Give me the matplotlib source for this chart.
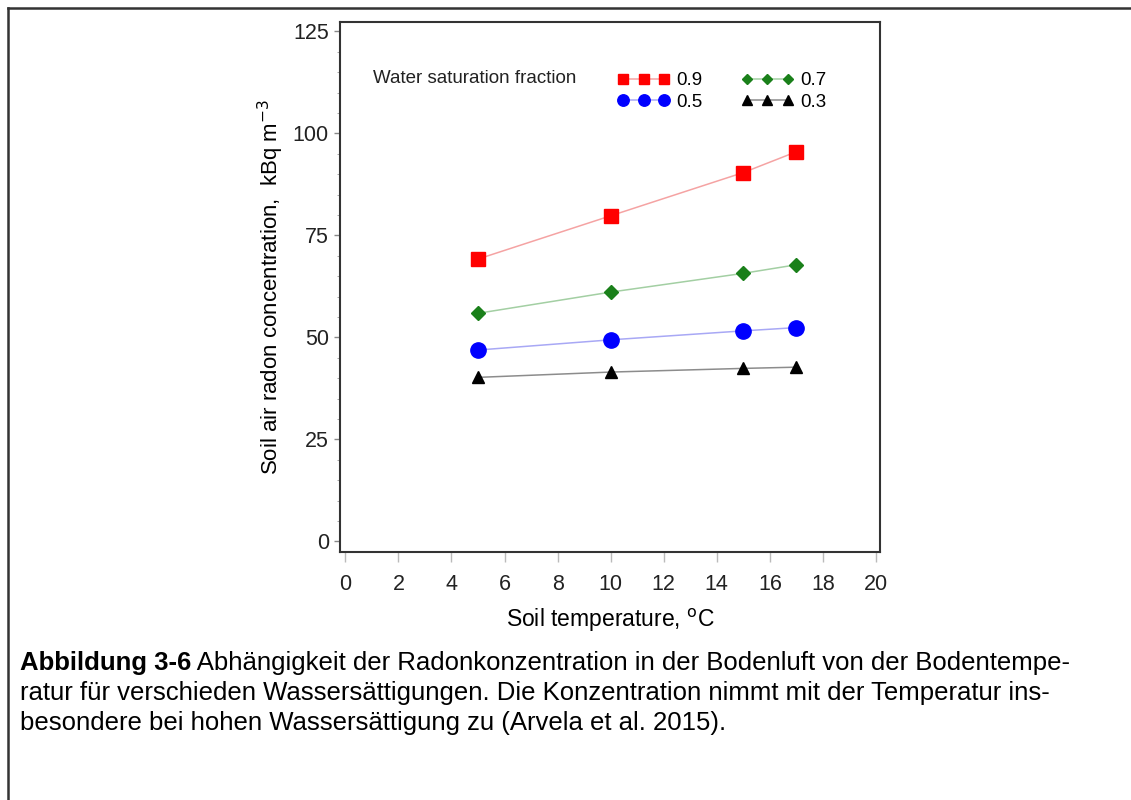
import matplotlib
matplotlib.use("Agg")
import matplotlib.pyplot as plt
from matplotlib.lines import Line2D

plt.rcParams['font.family'] = ['Liberation Sans', 'DejaVu Sans']

# data
temperature = [5, 10, 15, 17]
sat_09 = [69.2, 79.8, 90.4, 95.5]
sat_07 = [55.9, 61.1, 65.7, 67.8]
sat_05 = [46.9, 49.4, 51.6, 52.4]
sat_03 = [40.2, 41.5, 42.4, 42.7]

x_ticks = list(range(0, 21, 2))
y_ticks = [0, 25, 50, 75, 100, 125]

caption_bold = "Abbildung 3-6"
caption_lines = [
    " Abhängigkeit der Radonkonzentration in der Bodenluft von der Bodentempe-",
    "ratur für verschieden Wassersättigungen. Die Konzentration nimmt mit der Temperatur ins-",
    "besondere bei hohen Wassersättigung zu (Arvela et al. 2015).",
]

fig = plt.figure(figsize=(11.31, 8), dpi=100)
ax = fig.add_axes([340 / 1131, 1 - 552 / 800, 540 / 1131, 530 / 800])

l09, = ax.plot(temperature, sat_09, color='#f5a3a3', lw=1.1, marker='s', ms=10,
               mfc='#ff0000', mec='#ff0000', label='0.9')
l07, = ax.plot(temperature, sat_07, color='#a3cfa3', lw=1.1, marker='D', ms=7,
               mfc='#1a801a', mec='#1a801a', label='0.7')
l05, = ax.plot(temperature, sat_05, color='#a8a8f5', lw=1.1, marker='o', ms=11,
               mfc='#0000ff', mec='#0000ff', label='0.5')
l03, = ax.plot(temperature, sat_03, color='#8c8c8c', lw=1.1, marker='^', ms=9,
               mfc='black', mec='black', label='0.3')

ax.set_xlim(-0.2, 20.15)
ax.set_ylim(-2.6, 127.3)
ax.set_xticks(x_ticks)
ax.set_yticks(y_ticks)
ax.set_yticks(range(0, 126, 5), minor=True)
ax.tick_params(axis='both', labelsize=15.5, colors='#222222')
ax.tick_params(axis='x', length=7, width=1, color='#bbbbbb', pad=9)
ax.tick_params(axis='y', length=4, width=1, color='#888888', pad=4)
ax.tick_params(axis='y', which='minor', length=2, color='#999999')
for s in ax.spines.values():
    s.set_linewidth(1.5)
    s.set_color('#333333')

ax.set_xlabel("Soil temperature, $^{\\mathrm{o}}$C", fontsize=16.5, labelpad=8)
ax.set_ylabel("Soil air radon concentration,  kBq m$^{\\mathrm{-3}}$", fontsize=16, labelpad=5)

ax.text(0.061, 0.8925, "Water saturation fraction", transform=ax.transAxes,
        fontsize=13.5, va='center', ha='left', color='#222222')
ax.legend(handles=[l09, l05, l07, l03], ncol=2, numpoints=3, frameon=False,
          fontsize=13.5, markerscale=0.75, handlelength=2.8, handletextpad=0.35,
          columnspacing=2.05, labelspacing=0.25, loc='upper left',
          bbox_to_anchor=(0.4826, 0.9375))

# outer frame (top and left edges visible)
fig.add_artist(Line2D([8 / 1131, 8 / 1131], [0, 1 - 8 / 800], color='#333333', lw=1.8))
fig.add_artist(Line2D([8 / 1131, 1], [1 - 8 / 800, 1 - 8 / 800], color='#333333', lw=1.8))

# caption
renderer = fig.canvas.get_renderer()
y0 = 1 - 663 / 800
fs = 18.5
bold = fig.text(20 / 1131, y0, caption_bold, fontsize=fs, fontweight='bold', va='center')
bb = bold.get_window_extent(renderer=renderer)
fig.text(bb.x1 / fig.bbox.width, y0, caption_lines[0], fontsize=fs, va='center')
for i, line in enumerate(caption_lines[1:]):
    fig.text(20 / 1131, y0 - (i + 1) * 30 / 800, line, fontsize=fs, va='center')

fig.savefig("out.png", dpi=100)
